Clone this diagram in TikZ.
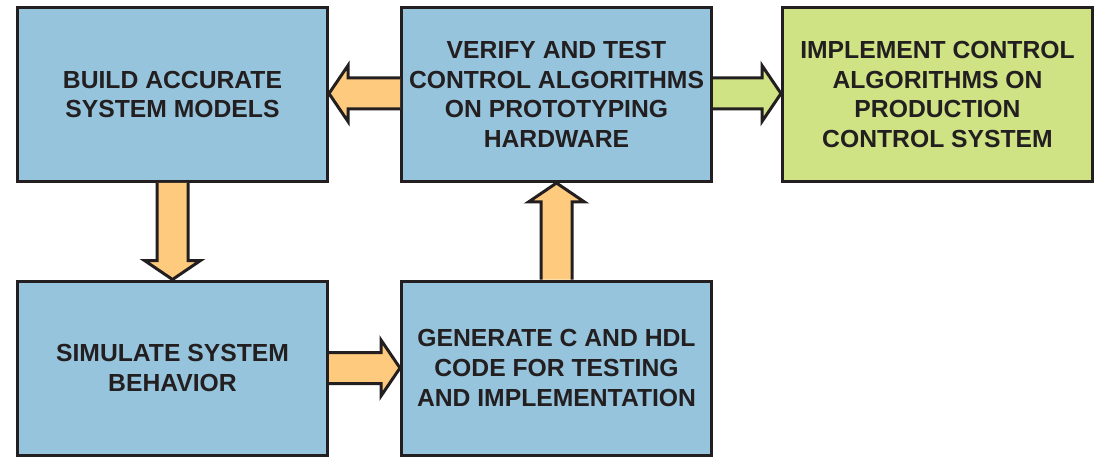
\documentclass[tikz,border=0pt]{standalone}
\usepackage{fontspec}
\setmainfont{Liberation Sans}
\usetikzlibrary{calc,shadows}
\definecolor{boxblue}{RGB}{150,196,221}
\definecolor{boxgreen}{RGB}{207,226,132}
\definecolor{arroworange}{RGB}{254,202,126}
\definecolor{ink}{RGB}{35,31,32}
\newcommand{\bah}{15.5pt}
\newcommand{\baH}{28pt}
\newcommand{\baL}{19pt}
\newcommand{\blockarrow}[3]{%
  \coordinate (ba-a1) at ($(#2)!\bah!90:(#3)$);
  \coordinate (ba-a2) at ($(#2)!\bah!-90:(#3)$);
  \coordinate (ba-m) at ($(#3)!\baL!(#2)$);
  \coordinate (ba-b1) at ($(ba-m)!\bah!90:(#3)$);
  \coordinate (ba-b2) at ($(ba-m)!\bah!-90:(#3)$);
  \coordinate (ba-c1) at ($(ba-m)!\baH!90:(#3)$);
  \coordinate (ba-c2) at ($(ba-m)!\baH!-90:(#3)$);
  \fill[#1] (ba-a1) -- (ba-b1) -- (ba-c1) -- (#3) -- (ba-c2) -- (ba-b2) -- (ba-a2) -- cycle;
  \draw[arrowline] (ba-a1) -- (ba-b1) -- (ba-c1) -- (#3) -- (ba-c2) -- (ba-b2) -- (ba-a2);
}
\tikzset{
  stepbox/.style={draw=ink, line width=3pt, minimum width=310pt, minimum height=174pt,
    inner sep=2pt, align=center, text=ink,
    font=\fontsize{24.7}{29.6}\selectfont\bfseries,
    drop shadow={shadow xshift=1.3pt, shadow yshift=-1.3pt, fill=black!22, opacity=1}},
  bluebox/.style={stepbox, fill=boxblue},
  greenbox/.style={stepbox, fill=boxgreen},
  arrowline/.style={draw=ink, line width=3pt, line join=miter},
}
\begin{document}
\begin{tikzpicture}[x=1pt,y=-1pt]
\useasboundingbox (0,0) rectangle (1111,465);
\node[bluebox] (build) at (172.5,94.5) {BUILD ACCURATE\\SYSTEM MODELS};
\node[bluebox] (verify) at (556.5,94.5) {VERIFY AND TEST\\CONTROL ALGORITHMS\\ON PROTOTYPING\\HARDWARE};
\node[greenbox] (impl) at (937.5,94.5) {IMPLEMENT CONTROL\\ALGORITHMS ON\\PRODUCTION\\CONTROL SYSTEM};
\node[bluebox] (sim) at (172.5,368) {SIMULATE SYSTEM\\BEHAVIOR};
\node[bluebox] (gen) at (556.5,368) {GENERATE C AND HDL\\CODE FOR TESTING\\AND IMPLEMENTATION};
\coordinate (v-w) at ($(verify.west)+(0,-1)$);
\coordinate (b-e) at ($(build.east)+(0,-1)$);
\coordinate (v-e) at ($(verify.east)+(0,-1)$);
\coordinate (i-w) at ($(impl.west)+(0,-1)$);
\blockarrow{arroworange}{v-w}{b-e}
\blockarrow{boxgreen}{v-e}{i-w}
\blockarrow{arroworange}{build.south}{sim.north}
\blockarrow{arroworange}{sim.east}{gen.west}
\blockarrow{arroworange}{gen.north}{verify.south}
\end{tikzpicture}
\end{document}
